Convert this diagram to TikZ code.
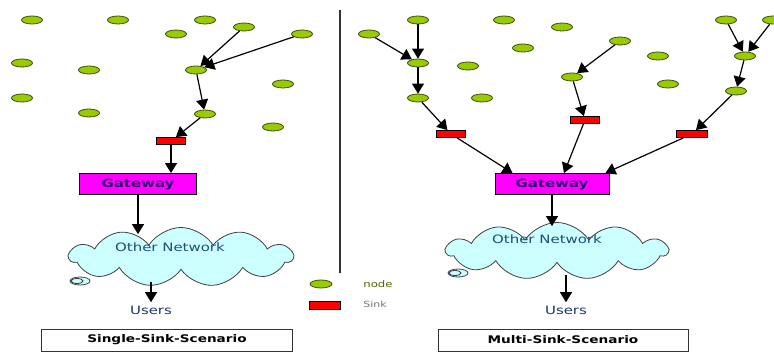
\documentclass[tikz,border=0pt]{standalone}
\usepackage{fontspec}
\setmainfont{DejaVu Sans}[FakeStretch=1.3]
\usetikzlibrary{shapes.geometric,shapes.symbols,arrows.meta}
\definecolor{nodegreen}{HTML}{99CC00}
\definecolor{nodeedge}{HTML}{3A4A10}
\definecolor{gwfill}{HTML}{FF00FF}
\definecolor{sinkred}{HTML}{FF0000}
\definecolor{gwtext}{HTML}{2A0A6A}
\definecolor{cloudfill}{HTML}{CCFFFF}
\definecolor{cloudedge}{HTML}{404040}
\definecolor{nettext}{HTML}{1F4E79}
\definecolor{usertext}{HTML}{1F3864}
\begin{document}
\begin{tikzpicture}[x=1pt,y=-1pt,
  sn/.style={ellipse,draw=nodeedge,fill=nodegreen,line width=0.8pt,minimum width=21pt,minimum height=8pt,inner sep=0pt},
  sk/.style={rectangle,draw=black,fill=sinkred,line width=0.8pt,minimum width=29pt,minimum height=7pt,inner sep=0pt},
  gw/.style={rectangle,draw=black,fill=gwfill,line width=0.9pt,minimum width=117pt,minimum height=21pt,inner sep=0pt,font=\bfseries\fontsize{11.5}{13}\selectfont,text=gwtext},
  net/.style={cloud,cloud puffs=11,cloud puff arc=115,cloud ignores aspect,draw=cloudedge,fill=cloudfill,line width=0.8pt,inner sep=0pt},
  arr/.style={-{Triangle[length=10pt,width=12pt]},line width=1.2pt},
  scn/.style={rectangle,draw=black!80,line width=0.8pt,minimum width=251pt,minimum height=22pt,font=\bfseries\fontsize{10.5}{12}\selectfont}]
\useasboundingbox (0,0) rectangle (774,352);

% single sink
\node[sn] (n1) at (32,20) {};
\node[sn] (n2) at (118,20) {};
\node[sn] (n3) at (205,20) {};
\node[sn] (n4) at (244,27) {};
\node[sn] (n5) at (176,34) {};
\node[sn] (n6) at (302,34) {};
\node[sn] (n7) at (22,63) {};
\node[sn] (n8) at (89,70) {};
\node[sn] (n9) at (196,70) {};
\node[sn] (n10) at (283,84) {};
\node[sn] (n11) at (22,98) {};
\node[sn] (n12) at (89,113) {};
\node[sn] (n13) at (205,114) {};
\node[sn] (n14) at (273,127) {};
\node[sk] (s1) at (171,141) {};
\node[gw] (g1) at (138,184) {Gateway};
\node[net,minimum width=223pt,minimum height=59pt] (c1) at (181,257) {};
\draw[cloudedge,fill=cloudfill,line width=0.8pt] (80,281) ellipse (10 and 4);
\draw[cloudedge,line width=0.8pt] (77,281) ellipse (6 and 2.5);
\node[text=nettext,font=\fontsize{11.5}{13}\selectfont] (o1) at (170,247) {Other Network};
\node[text=usertext,font=\fontsize{11.5}{13}\selectfont] (u1) at (151,310) {Users};
\node[scn] (b1) at (167,340) {Single-Sink-Scenario};

\draw[arr] (n4) -- (n9);
\draw[arr] (n6) -- (n9);
\draw[arr] (n9) -- (n13);
\draw[arr] (n13) -- (s1);
\draw[arr] (s1) -- (s1 |- g1.north);
\draw[arr] (g1.south) -- ([yshift=-7pt]g1.south |- c1.north);
\draw[arr] ([yshift=-12pt]u1.north |- c1.south) -- (u1.north);

\draw[black!80,line width=1.2pt] (340,10) -- (340,273);

% legend
\node[sn,minimum width=22pt] (l1) at (321,284) {};
\node[text=nodegreen!50!black,font=\fontsize{9}{10}\selectfont] (l1t) at (378,284) {node};
\node[sk,minimum width=31pt,minimum height=8pt] (l2) at (325,305) {};
\node[text=black!55,font=\fontsize{8.5}{10}\selectfont] (l2t) at (375,304) {Sink};

% multi sink
\node[sn] (m1) at (418,20) {};
\node[sn] (m2) at (504,20) {};
\node[sn] (m3) at (562,27) {};
\node[sn] (m4) at (369,34) {};
\node[sn] (m5) at (620,41) {};
\node[sn] (m6) at (523,48) {};
\node[sn] (m7) at (726,20) {};
\node[sn] (m8) at (773,20) {};
\node[sn] (m9) at (658,56) {};
\node[sn] (m10) at (745,56) {};
\node[sn] (m11) at (418,63) {};
\node[sn] (m12) at (468,66) {};
\node[sn] (m13) at (572,77) {};
\node[sn] (m14) at (668,84) {};
\node[sn] (m15) at (736,91) {};
\node[sn] (m16) at (418,98) {};
\node[sn] (m17) at (482,98) {};
\node[sk] (t1) at (451,134) {};
\node[sk] (t2) at (585,120) {};
\node[sk,minimum width=31pt] (t3) at (692,134) {};
\node[gw,minimum width=114pt] (g2) at (552,184) {Gateway};
\node[net,minimum width=221pt,minimum height=57pt] (c2) at (557,251) {};
\draw[cloudedge,fill=cloudfill,line width=0.8pt] (458,273) ellipse (10 and 4);
\draw[cloudedge,line width=0.8pt] (455,273) ellipse (6 and 2.5);
\node[text=nettext,font=\fontsize{11.5}{13}\selectfont] (o2) at (547,239) {Other Network};
\node[text=usertext,font=\fontsize{11.5}{13}\selectfont] (u2) at (566,310) {Users};
\node[scn,minimum width=250pt] (b2) at (563,340) {Multi-Sink-Scenario};

\draw[arr] (m1) -- (m11);
\draw[arr] (m4) -- (m11);
\draw[arr] (m11) -- (m16);
\draw[arr] (m16) -- (t1);
\draw[arr] (m5) -- (m13);
\draw[arr] (m13) -- (t2);
\draw[arr] (m7) -- (m10);
\draw[arr] (m8) -- (m10);
\draw[arr] (m10) -- (m15);
\draw[arr] (m15) -- (t3);
\draw[arr] (t1) -- ([xshift=18pt]g2.north west);
\draw[arr] (t2) -- ([xshift=12pt]g2.north);
\draw[arr] (t3) -- ([xshift=-4pt]g2.north east);
\draw[arr] (g2.south) -- ([yshift=-4pt]g2.south |- c2.north);
\draw[arr] ([yshift=-12pt]u2.north |- c2.south) -- (u2.north);
\end{tikzpicture}
\end{document}
